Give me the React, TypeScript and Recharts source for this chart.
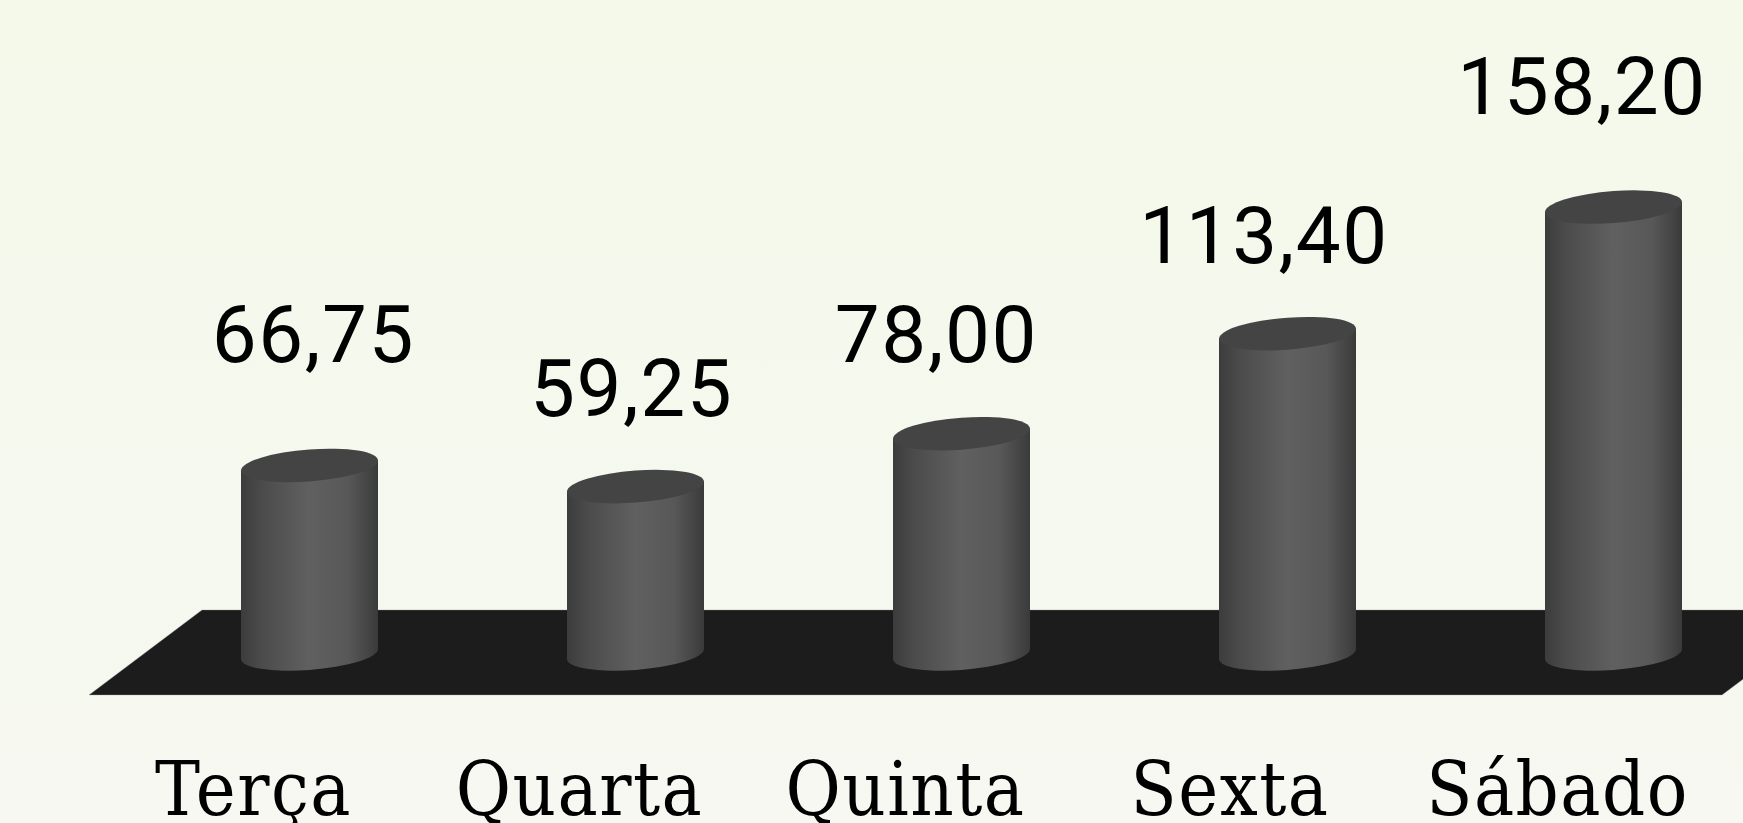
import React from "react";
import { BarChart, Bar, XAxis, YAxis, ReferenceArea, LabelList } from "recharts";

const categories = ["Terça", "Quarta", "Quinta", "Sexta", "Sábado"];
const values = [66.75, 59.25, 78.0, 113.4, 158.2];

// label placement relative to the top of each cylinder
const labelDx = [3.3, -4.4, -25.6, -24, -32];
const labelDy = [-103, -71, -72, -71, -93];
const tickDx = [-56, -56, -56, -57.5, -56];

const data = categories.map((name, i) => ({ name, value: values[i] }));

const SHEAR = -0.073;
const RY = 16;

function Cylinder(props: any) {
  const { x, y, width, height } = props;
  const a = width / 2;
  const body = `M ${-a} 0 L ${-a} ${height} A ${a} ${RY} 0 0 0 ${a} ${height} L ${a} 0 Z`;
  return (
    <g transform={`matrix(1 ${SHEAR} 0 1 ${x + a - 0.5} ${y})`}>
      <path d={body} fill="url(#cyl)" />
      <ellipse cx={0} cy={0} rx={a} ry={RY} fill="#444444" />
    </g>
  );
}

function Plinth(props: any) {
  const { x, y, height } = props;
  const b = y + height;
  const pts = [
    [x - 57.5, b],
    [x + 55.5, y],
    [x + 1688.5, y],
    [x + 1575.5, b],
  ]
    .map((p) => p.join(","))
    .join(" ");
  return <polygon points={pts} fill="#1c1c1c" stroke="#9a9a9a" strokeWidth={0.6} strokeOpacity={0.6} />;
}

function Tick(props: any) {
  const { x, payload, index } = props;
  return (
    <text
      x={x + tickDx[index]}
      y={815}
      textAnchor="middle"
      fontFamily="'DejaVu Serif Condensed', 'DejaVu Serif', serif"
      fontStretch="condensed"
      fontSize={75}
      letterSpacing={1.5}
      fill="#000"
    >
      {payload.value}
    </text>
  );
}

function ValueLabel(props: any) {
  const { x, y, width, value, index } = props;
  return (
    <text
      x={x + width / 2 + labelDx[index]}
      y={y + labelDy[index]}
      textAnchor="middle"
      fontFamily="Roboto, sans-serif"
      fontSize={80}
      letterSpacing={1.5}
      fill="#000"
    >
      {Number(value).toFixed(2).replace(".", ",")}
    </text>
  );
}

export default function App() {
  return (
    <div
      style={{
        position: "absolute",
        left: 0,
        top: 0,
        width: 1743,
        height: 823,
        overflow: "hidden",
        background: "linear-gradient(180deg, #f4f9ea 0%, #f6f8f1 100%)",
      }}
    >
      <BarChart
        width={1800}
        height={823}
        data={data}
        margin={{ top: 117.25, right: 23.5, bottom: 0, left: 146.5 }}
        barCategoryGap={0}
      >
        <defs>
          <linearGradient id="cyl" x1="0" y1="0" x2="1" y2="0">
            <stop offset="0%" stopColor="#3c3c3c" />
            <stop offset="15%" stopColor="#4b4b4b" />
            <stop offset="50%" stopColor="#606060" />
            <stop offset="78%" stopColor="#585858" />
            <stop offset="93%" stopColor="#444444" />
            <stop offset="100%" stopColor="#3a3a3a" />
          </linearGradient>
        </defs>
        <XAxis
          dataKey="name"
          axisLine={false}
          tickLine={false}
          height={112.5}
          interval={0}
          tick={<Tick />}
        />
        <YAxis hide domain={[-20, 190]} />
        <ReferenceArea y1={-14.5} y2={15.6} ifOverflow="visible" shape={<Plinth />} />
        <Bar dataKey="value" barSize={137} isAnimationActive={false} shape={<Cylinder />}>
          <LabelList dataKey="value" content={<ValueLabel />} />
        </Bar>
      </BarChart>
    </div>
  );
}
